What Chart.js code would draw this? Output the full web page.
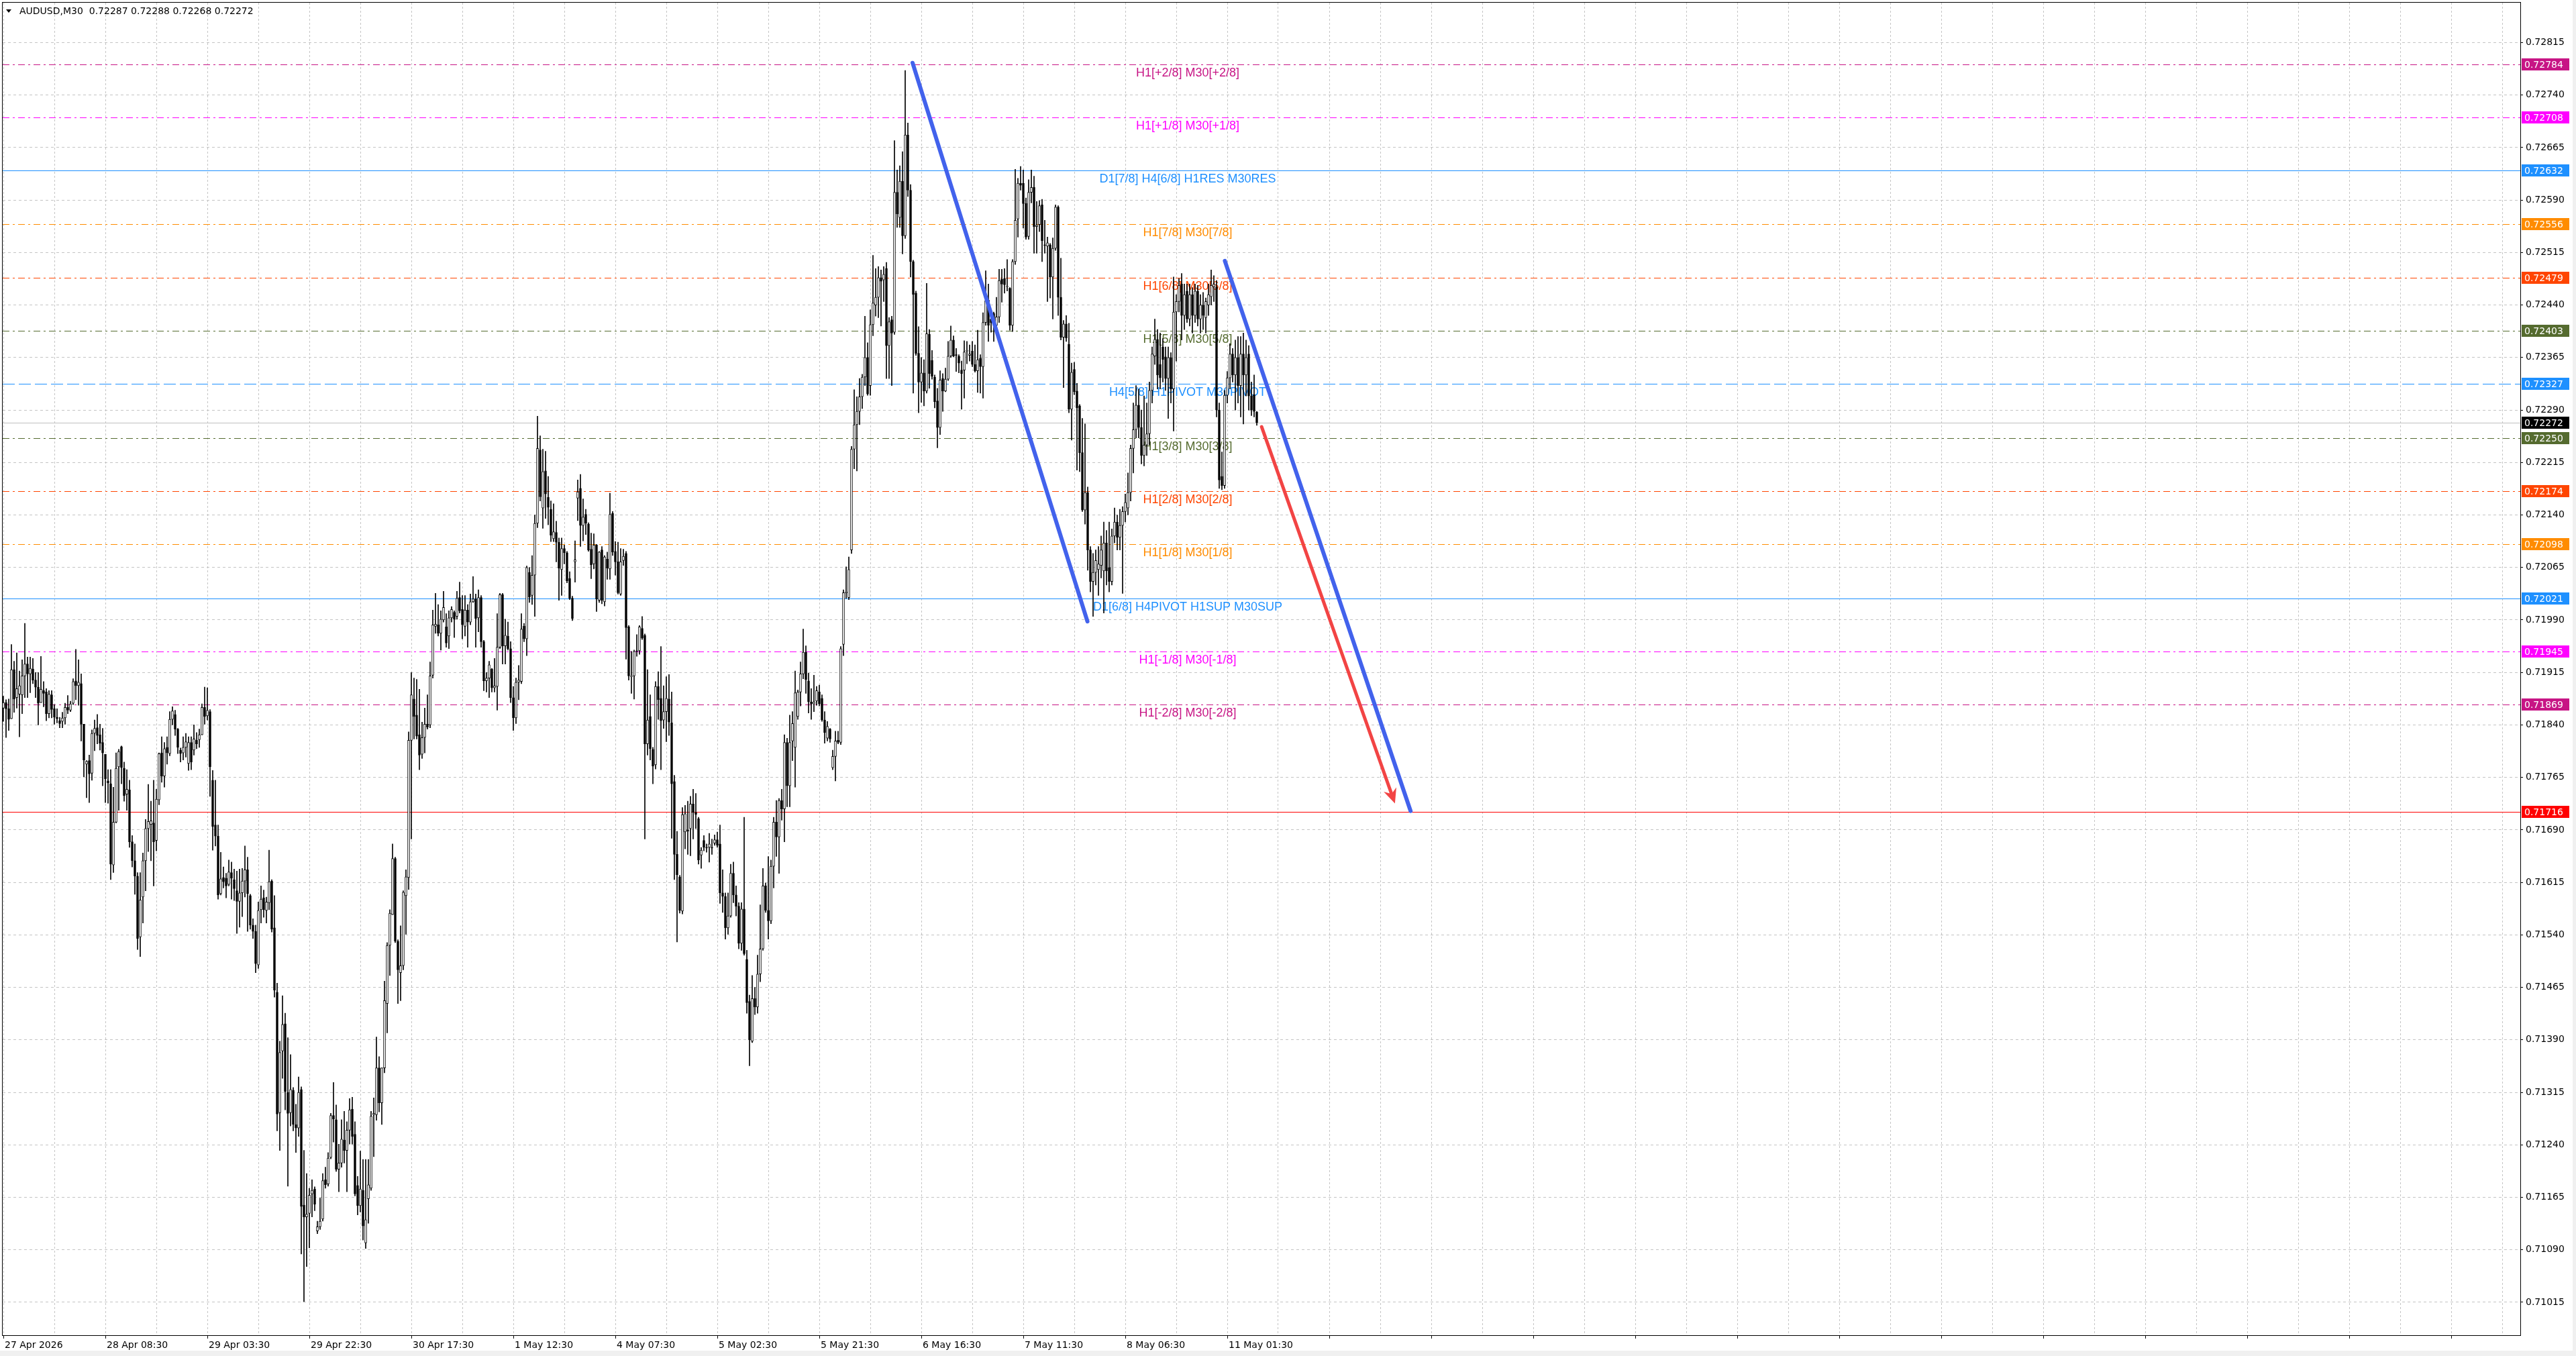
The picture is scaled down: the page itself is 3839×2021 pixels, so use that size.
<!DOCTYPE html>
<html>
<head>
<meta charset="utf-8">
<title>AUDUSD,M30</title>
<script src="https://cdn.jsdelivr.net/npm/chart.js@4.4.1/dist/chart.umd.min.js"></script>
<style>
  html, body { margin: 0; padding: 0; background: #fff; overflow: hidden; }
  canvas { display: block; }
</style>
</head>
<body>
<canvas id="chart" width="3839" height="2021"></canvas>
<script>
// prices are kept as points above BASE (1 point = 0.00001)
const BASE = 0.71;
const PT = 0.00001;

const opens = [
  864,872,863,849,919,879,884,883,910,927, 913,920,904,894,872,889,887,856,883,863,
  851,846,845,850,865,861,871,903,896,899, 841,784,789,771,828,836,826,815,798,760,
  756,640,701,780,809,778,741,747,673,646, 624,537,594,646,692,698,700,675,733,800,
  767,808,799,848,855,834,804,800,808,785, 815,804,818,819,826,865,853,859,761,697,
  681,599,622,621,612,629,619,603,588,600, 617,633,596,554,545,497,576,593,575,586,
  617,550,458,286,374,413,315,286,318,269, 264,319,154,137,142,170,177,117,123,134,
  190,184,222,282,276,205,214,247,232,261, 291,255,182,153,175,100,163,178,283,283,
  350,300,350,442,525,569,649,531,486,496, 596,622,818,877,854,826,798,822,841,840,
  911,981,983,971,990,980,967,993,1001,995, 1022,1005,981,1004,987,1016,1020,993,1022,959,
  903,907,920,893,895,951,1026,953,967,949, 879,850,901,902,981,963,1058,1025,1054,1128,
  1233,1150,1203,1165,1148,1106,1115,1101,1062,1092, 1086,1049,1021,1073,1164,1178,1125,1141,1127,1091,
  1070,1097,1018,1090,1016,1077,1063,1142,1088,1073, 1027,1075,1085,980,909,910,946,946,978,968,
  813,852,805,783,895,878,847,859,877,843, 759,655,623,574,687,690,692,727,715,706,
  654,675,665,665,665,671,676,670,600,595, 550,567,628,597,581,528,577,505,445,388,
  449,437,484,520,610,575,560,638,701,680, 732,720,815,753,817,808,852,887,913,944,
  903,873,870,874,887,878,847,821,834,779, 795,818,815,955,1029,1022,1090,1234,1269,1288,
  1309,1337,1365,1325,1412,1440,1451,1479,1476,1492, 1382,1419,1401,1601,1565,1617,1539,1683,1604,1502,
  1457,1371,1330,1343,1317,1398,1361,1337,1303,1265, 1335,1317,1334,1367,1390,1369,1367,1347,1347,1374,
  1368,1374,1355,1346,1364,1352,1415,1447,1420,1428, 1411,1423,1477,1478,1466,1464,1411,1502,1563,1614,
  1614,1585,1538,1601,1608,1552,1555,1583,1526,1524, 1526,1480,1521,1580,1451,1394,1413,1384,1291,1348,
  1317,1296,1229,1147,1172,1090,1045,1058,1062,1068, 1060,1100,1065,1045,1110,1130,1108,1125,1145,1150,
  1172,1235,1262,1297,1265,1225,1240,1256,1318,1367, 1391,1355,1380,1366,1335,1365,1320,1430,1445,1470,
  1425,1460,1420,1455,1425,1460,1420,1440,1422,1440, 1452,1466,1466,1290,1195,1182,1311,1336,1370,1340,
  1365,1325,1370,1340,1370,1310,1312,1287
];
const highs = [
  881,876,877,955,931,943,917,933,985,937, 937,935,915,915,938,902,892,889,889,869,
  863,851,858,871,882,874,906,948,933,913, 841,789,797,833,847,855,841,835,798,776,
  776,751,800,805,810,787,776,761,682,670, 629,629,657,705,755,731,761,748,800,823,
  815,823,859,866,861,835,807,823,828,823, 823,840,829,834,870,894,893,862,775,761,
  697,658,637,628,647,644,634,631,634,635, 667,651,598,563,554,587,610,604,594,661,
  619,596,471,388,453,428,393,369,322,298, 337,323,232,199,178,190,180,131,164,199,
  208,229,285,329,297,241,276,288,273,306, 308,273,195,231,219,219,219,288,307,394,
  366,344,474,529,576,670,651,533,553,603, 633,830,915,907,905,891,844,864,883,930,
  1004,1028,1012,1003,1031,999,1003,1009,1003,1031, 1044,1025,1025,1012,1027,1052,1027,1033,1025,961,
  915,931,921,935,999,1028,1028,991,987,959, 895,907,925,999,985,1067,1065,1082,1140,1281,
  1253,1234,1231,1195,1160,1156,1131,1107,1107,1097, 1088,1059,1024,1103,1190,1198,1163,1148,1129,1114,
  1113,1098,1088,1095,1082,1087,1171,1145,1102,1101, 1092,1091,1088,982,945,947,969,982,995,970,
  919,883,808,902,916,952,896,909,912,887, 768,688,625,722,725,731,738,748,742,708,
  665,682,670,685,677,683,687,697,633,600, 600,641,644,610,586,586,708,518,454,482,
  465,511,583,635,614,652,647,708,732,735, 748,826,821,854,859,917,890,930,977,953,
  914,892,911,895,897,883,859,845,835,804, 831,831,952,1033,1066,1080,1238,1319,1309,1335,
  1341,1424,1386,1433,1511,1492,1495,1490,1495,1501, 1422,1424,1675,1633,1639,1659,1775,1700,1612,1504,
  1460,1409,1365,1362,1471,1405,1375,1340,1321,1346, 1342,1350,1388,1410,1396,1378,1369,1360,1389,1388,
  1383,1388,1383,1404,1369,1429,1489,1470,1432,1430, 1451,1491,1491,1492,1505,1465,1505,1634,1621,1638,
  1633,1593,1619,1633,1624,1588,1589,1591,1561,1537, 1528,1536,1583,1582,1507,1418,1425,1414,1357,1358,
  1328,1298,1278,1270,1180,1095,1085,1090,1095,1110, 1130,1118,1130,1120,1150,1140,1148,1152,1170,1200,
  1240,1300,1325,1320,1290,1310,1300,1330,1380,1420, 1405,1400,1392,1380,1380,1372,1480,1455,1478,1485,
  1470,1470,1470,1465,1470,1468,1455,1458,1450,1470, 1490,1482,1475,1300,1230,1318,1345,1385,1378,1390,
  1395,1395,1400,1390,1382,1330,1340,1288
];
const lows = [
  845,822,832,858,858,864,823,856,879,879, 886,899,879,840,873,866,846,850,850,841,
  843,836,836,841,856,859,869,876,868,817, 766,736,729,761,803,813,804,753,729,728,
  619,629,700,718,756,731,718,665,637,598, 519,509,557,603,659,646,610,660,726,758,
  751,784,796,840,825,799,787,790,794,775, 776,797,806,808,826,841,847,738,661,667,
  591,597,607,593,610,591,589,542,551,566, 594,545,548,535,486,492,557,565,557,576,
  544,451,260,232,335,290,181,267,260,229, 252,84,16,66,93,137,146,113,119,131,
  178,181,220,244,202,173,208,214,173,241, 241,167,140,144,104,92,128,175,223,275,
  287,269,343,400,482,569,529,442,446,490, 541,605,677,820,820,776,792,800,834,836,
  907,971,967,947,987,951,949,987,965,991, 1000,963,967,951,983,1015,951,973,951,889,
  887,879,887,887,861,949,927,927,947,872, 832,842,876,899,959,939,1015,1012,995,1122,
  1160,1121,1135,1126,1102,1102,1073,1018,1025,1070, 1043,1019,989,1044,1132,1095,1103,1112,1088,1049,
  1063,1002,1015,1013,1010,1048,1048,1082,1054,1027, 1025,1068,934,904,885,877,938,941,962,677,
  797,790,756,777,848,776,835,816,825,678, 619,530,571,570,663,655,653,677,692,641,
  635,660,658,644,655,668,665,585,572,534, 541,565,586,567,520,518,511,428,353,386,
  426,428,473,518,572,534,556,607,652,628, 704,673,723,723,789,751,848,867,906,885,
  857,848,859,868,867,845,814,817,815,776, 760,813,812,939,1021,1019,1085,1206,1203,1269,
  1292,1325,1311,1311,1396,1424,1422,1410,1445,1335, 1335,1325,1398,1551,1551,1513,1535,1595,1480,1314,
  1368,1286,1301,1296,1314,1321,1334,1293,1236,1255, 1288,1316,1332,1365,1366,1345,1343,1291,1307,1356,
  1360,1352,1344,1315,1314,1307,1411,1388,1401,1388, 1406,1415,1444,1457,1460,1404,1402,1498,1537,1604,
  1550,1534,1534,1586,1514,1514,1545,1502,1514,1445, 1450,1420,1518,1425,1390,1322,1388,1286,1247,1312,
  1204,1202,1145,1127,1061,1030,995,1040,1025,1050, 1000,1040,1030,1040,1100,1090,1090,1028,1130,1140,
  1160,1200,1250,1250,1213,1210,1225,1240,1300,1355, 1320,1320,1330,1318,1278,1300,1260,1360,1430,1390,
  1405,1415,1410,1400,1415,1410,1400,1405,1400,1425, 1440,1445,1280,1178,1176,1178,1300,1320,1330,1290,
  1300,1280,1270,1310,1290,1282,1280,1268
];
const closes = [
  872,863,848,919,877,892,896,910,927,913, 921,904,894,871,891,885,856,884,862,851,
  849,842,850,865,861,870,902,896,901,841, 790,788,770,828,835,825,814,800,763,757,
  641,701,778,802,779,739,748,673,646,624, 535,590,646,692,702,703,673,734,799,767,
  806,800,848,860,834,808,799,808,816,815, 787,820,813,826,865,852,861,780,695,681,
  597,620,616,610,630,621,606,588,600,617, 633,599,554,545,499,575,591,576,587,616,
  548,461,284,372,412,316,285,319,269,264, 315,152,137,141,168,175,155,123,131,189,
  183,221,282,277,205,214,248,232,261,290, 252,170,153,177,124,133,183,281,285,350,
  300,350,446,525,571,649,531,490,496,601, 623,818,883,852,824,797,822,841,837,910,
  983,984,971,991,1008,957,993,1005,991,1021, 1003,983,1004,987,1016,1020,992,1022,959,903,
  907,926,893,896,951,1026,953,968,949,879, 850,901,904,977,963,1065,1023,1054,1128,1235,
  1166,1202,1170,1151,1111,1116,1101,1064,1092,1086, 1046,1021,992,1076,1173,1125,1137,1128,1090,1069,
  1097,1020,1087,1018,1080,1064,1141,1087,1073,1029, 1073,1081,979,910,910,945,945,980,964,813,
  847,806,781,895,876,846,859,878,844,756, 655,626,575,712,713,688,727,715,712,647,
  661,665,664,670,664,676,668,600,595,550, 567,628,597,581,528,577,513,443,390,449,
  437,484,520,610,575,560,638,701,680,732, 720,815,753,815,842,886,887,913,944,905,
  873,870,873,889,870,847,829,838,820,795, 817,815,949,1029,1030,1062,1234,1269,1288,1309,
  1337,1365,1313,1412,1443,1451,1479,1474,1484,1382, 1416,1400,1601,1570,1617,1539,1683,1604,1502,1455,
  1371,1330,1343,1317,1399,1342,1338,1302,1265,1333, 1317,1334,1367,1390,1367,1368,1357,1342,1373,1374,
  1370,1355,1346,1362,1352,1415,1446,1411,1415,1414, 1423,1475,1470,1469,1466,1411,1502,1561,1614,1611,
  1585,1537,1601,1608,1552,1554,1582,1532,1525,1529, 1480,1521,1580,1451,1394,1413,1393,1291,1344,1316,
  1293,1229,1147,1172,1090,1045,1058,1075,1070,1090, 1100,1060,1045,1110,1130,1108,1125,1145,1158,1172,
  1235,1262,1297,1265,1225,1240,1256,1318,1370,1391, 1340,1336,1362,1335,1365,1320,1430,1445,1468,1425,
  1455,1420,1455,1425,1460,1420,1440,1425,1445,1455, 1468,1470,1290,1190,1182,1311,1336,1370,1340,1365,
  1325,1370,1340,1365,1310,1290,1288,1272
];

// one label every 38 bars, grid line every 19 bars
const timeLabels = ["27 Apr 2026", "28 Apr 08:30", "29 Apr 03:30", "29 Apr 22:30", "30 Apr 17:30",
  "1 May 12:30", "4 May 07:30", "5 May 02:30", "5 May 21:30", "6 May 16:30", "7 May 11:30",
  "8 May 06:30", "11 May 01:30"];
const priceTicks = [0.72815, 0.72740, 0.72665, 0.72590, 0.72515, 0.72440, 0.72365, 0.72290,
  0.72215, 0.72140, 0.72065, 0.71990, 0.71915, 0.71840, 0.71765, 0.71690, 0.71615, 0.71540,
  0.71465, 0.71390, 0.71315, 0.71240, 0.71165, 0.71090, 0.71015];

// murrey math levels
const levelPrices = [0.72784, 0.72708, 0.72632, 0.72556, 0.72479, 0.72403, 0.72327, 0.72250,
  0.72174, 0.72098, 0.72021, 0.71945, 0.71869];
const levelNames = ["H1[+2/8] M30[+2/8]", "H1[+1/8] M30[+1/8]", "D1[7/8] H4[6/8] H1RES M30RES",
  "H1[7/8] M30[7/8]", "H1[6/8] M30[6/8]", "H1[5/8] M30[5/8]", "H4[5/8] H1PIVOT M30PIVOT",
  "H1[3/8] M30[3/8]", "H1[2/8] M30[2/8]", "H1[1/8] M30[1/8]", "D1[6/8] H4PIVOT H1SUP M30SUP",
  "H1[-1/8] M30[-1/8]", "H1[-2/8] M30[-2/8]"];
const levelColors = ["#C71585", "#FF00FF", "#1E90FF", "#FF8C00", "#FF4500", "#556B2F", "#1E90FF",
  "#556B2F", "#FF4500", "#FF8C00", "#1E90FF", "#FF00FF", "#C71585"];
const levelStyles = ["dashdot", "dashdot", "solid", "dashdot", "dashdot", "dashdot", "dash",
  "dashdot", "dashdot", "dashdot", "solid", "dashdot", "dashdot"];
const targetPrice = 0.71716;

// drawn trend lines, x = bar number
const trendA = [{ x: 338.75, y: 0.72786 }, { x: 403.9, y: 0.71988 }];
const trendB = [{ x: 455.1, y: 0.72503 }, { x: 524.3, y: 0.71717 }];
const arrowLine = [{ x: 468.8, y: 0.72266 }, { x: 517.8, y: 0.71735 }];
const LABEL_BAR = 441.25;

const X_MIN = -0.25, X_MAX = 937.75;
const Y_MIN = 0.70968, Y_MAX = 0.72872;
const FONT = "'DejaVu Sans', Verdana, sans-serif";
const LABEL_FONT = "18px 'Liberation Sans', Arial, sans-serif";

const toPrice = v => +(BASE + v * PT).toFixed(5);
const last = closes.length - 1;
const lastPrice = toPrice(closes[last]);

const wickData = opens.map((o, i) => ({
  x: i, y: [toPrice(Math.min(lows[i], o, closes[i])), toPrice(Math.max(highs[i], o, closes[i]))]
}));
const bodyData = opens.map((o, i) => ({ x: i, y: [toPrice(o), toPrice(closes[i])] }));
const bodyFill = opens.map((o, i) => closes[i] >= o ? "#ffffff" : "#000000");

const gridBars = [];
for (let b = 0; b <= X_MAX; b += 19) gridBars.push(b);

function dashFor(style) {
  if (style === "dashdot") return [10, 5, 3, 5];
  if (style === "dash") return [18, 6];
  return [];
}

function trendLine(points, color, width) {
  return {
    type: "line", data: points, borderColor: color, borderWidth: width,
    borderCapStyle: "round", pointRadius: 0, order: 0
  };
}

const datasets = [
  {
    type: "bar", data: wickData, backgroundColor: "#000000", borderWidth: 0,
    barThickness: 1, grouped: false, order: 2
  },
  {
    type: "bar", data: bodyData, backgroundColor: bodyFill, borderColor: "#000000",
    borderWidth: 1, borderSkipped: false, barThickness: 3, minBarLength: 1,
    grouped: false, order: 1
  },
  trendLine(trendA, "#4262EC", 6),
  trendLine(trendB, "#4262EC", 6),
  trendLine(arrowLine, "#F24444", 5)
];

const mt4Decor = {
  id: "mt4Decor",
  beforeDraw(chart) {
    const ctx = chart.ctx;
    ctx.save();
    ctx.fillStyle = "#ffffff";
    ctx.fillRect(0, 0, chart.width, chart.height);
    ctx.fillStyle = "#F0F0F0";
    ctx.fillRect(0, 2013, chart.width, chart.height - 2013);
    ctx.fillRect(3834, 0, chart.width - 3834, chart.height);
    ctx.restore();
  },
  beforeDatasetsDraw(chart) {
    const { ctx, chartArea: a, scales: { x, y } } = chart;
    ctx.save();
    // horizontal levels, snapped to whole pixels so they stay crisp
    const level = (price, color, dash) => {
      const py = Math.round(y.getPixelForValue(price)) + 0.5;
      ctx.strokeStyle = color;
      ctx.lineWidth = 1;
      ctx.setLineDash(dash);
      ctx.beginPath();
      ctx.moveTo(a.left, py);
      ctx.lineTo(a.right, py);
      ctx.stroke();
    };
    levelPrices.forEach((p, k) => level(p, levelColors[k], dashFor(levelStyles[k])));
    level(targetPrice, "#FF0000", []);
    level(lastPrice, "#C0C0C0", []);
    ctx.setLineDash([]);

    ctx.font = LABEL_FONT;
    ctx.textAlign = "center";
    ctx.textBaseline = "alphabetic";
    const lx = x.getPixelForValue(LABEL_BAR);
    levelPrices.forEach((p, k) => {
      ctx.fillStyle = levelColors[k];
      ctx.fillText(levelNames[k], lx, y.getPixelForValue(p) + 18);
    });
    ctx.restore();
  },
  afterDatasetsDraw(chart) {
    const { ctx, scales: { x, y } } = chart;
    // arrow head on the red line
    const x1 = x.getPixelForValue(arrowLine[0].x), y1 = y.getPixelForValue(arrowLine[0].y);
    const x2 = x.getPixelForValue(arrowLine[1].x), y2 = y.getPixelForValue(arrowLine[1].y);
    const len = Math.hypot(x2 - x1, y2 - y1);
    const ux = (x2 - x1) / len, uy = (y2 - y1) / len;
    const tipX = x2 + ux * 8, tipY = y2 + uy * 8;
    ctx.save();
    ctx.fillStyle = "#F24444";
    ctx.beginPath();
    ctx.moveTo(tipX, tipY);
    ctx.lineTo(tipX - ux * 22 - uy * 10, tipY - uy * 22 + ux * 10);
    ctx.lineTo(tipX - ux * 15, tipY - uy * 15);
    ctx.lineTo(tipX - ux * 22 + uy * 10, tipY - uy * 22 - ux * 10);
    ctx.closePath();
    ctx.fill();
    ctx.restore();
  },
  afterDraw(chart) {
    const { ctx, chartArea: a, scales: { y } } = chart;
    ctx.save();
    // frame
    ctx.strokeStyle = "#000000";
    ctx.lineWidth = 1;
    ctx.strokeRect(a.left - 0.5, a.top - 0.5, a.right - a.left + 1, a.bottom - a.top + 1);

    // price boxes on the right scale
    ctx.font = "14px " + FONT;
    ctx.textAlign = "left";
    ctx.textBaseline = "middle";
    const box = (price, color) => {
      const py = Math.round(y.getPixelForValue(price));
      ctx.fillStyle = color;
      ctx.fillRect(a.right + 2, py - 9, 71, 18);
      ctx.fillStyle = "#ffffff";
      ctx.fillText(price.toFixed(5), a.right + 6, py + 1);
    };
    levelPrices.forEach((p, k) => box(p, levelColors[k]));
    box(targetPrice, "#FF0000");
    box(lastPrice, "#000000");

    // title
    ctx.fillStyle = "#000000";
    ctx.beginPath();
    ctx.moveTo(9, 14); ctx.lineTo(17, 14); ctx.lineTo(13, 19);
    ctx.closePath();
    ctx.fill();
    const title = "AUDUSD,M30  " + [opens[last], highs[last], lows[last], closes[last]]
      .map(v => toPrice(v).toFixed(5)).join(" ");
    ctx.fillText(title, 29, 17);
    ctx.restore();
  }
};

Chart.defaults.font.family = FONT;
Chart.defaults.font.size = 14;
Chart.defaults.color = "#000000";

new Chart(document.getElementById("chart"), {
  type: "bar",
  data: { datasets: datasets },
  options: {
    responsive: false,
    animation: false,
    devicePixelRatio: 1,
    events: [],
    layout: { padding: { left: 4, top: 4, right: 0, bottom: 0 } },
    plugins: { legend: { display: false }, tooltip: { enabled: false } },
    scales: {
      x: {
        type: "linear", position: "bottom", min: X_MIN, max: X_MAX, offset: false,
        afterBuildTicks: s => { s.ticks = gridBars.map(v => ({ value: v })); },
        afterFit: s => { s.height = 31; s.paddingLeft = 0; s.paddingRight = 0; },
        grid: {
          offset: false, color: "#C4C4C4", lineWidth: 1, tickLength: 5,
          tickColor: c => (c.tick && c.tick.value % 38 === 0) ? "#000000" : "rgba(0,0,0,0)"
        },
        border: { color: "#000000", width: 1, dash: [3, 3] },
        ticks: {
          autoSkip: false, maxRotation: 0, minRotation: 0, align: "start", padding: 2,
          labelOffset: 2, font: { size: 14 },
          callback: v => (v % 38 === 0 && timeLabels[v / 38]) || ""
        }
      },
      y: {
        type: "linear", position: "right", min: Y_MIN, max: Y_MAX, beginAtZero: false,
        afterBuildTicks: s => { s.ticks = priceTicks.map(v => ({ value: v })); },
        afterFit: s => { s.width = 83; s.paddingTop = 0; s.paddingBottom = 0; },
        grid: { color: "#C4C4C4", lineWidth: 1, tickLength: 4, tickColor: "#000000" },
        border: { color: "#000000", width: 1, dash: [4, 4] },
        ticks: { padding: 4, crossAlign: "near", font: { size: 14 }, callback: v => v.toFixed(5) }
      }
    }
  },
  plugins: [mt4Decor]
});
</script>
</body>
</html>
